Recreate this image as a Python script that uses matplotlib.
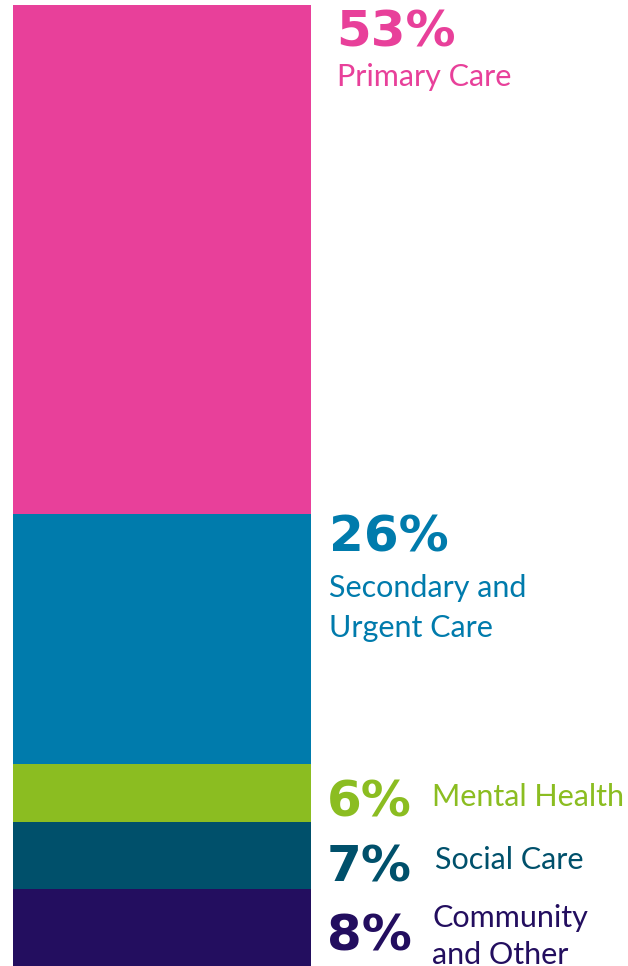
import matplotlib
matplotlib.use("Agg")
import matplotlib.pyplot as plt
import numpy as np

# ---- data ----
categories = ["Primary Care", "Secondary and\nUrgent Care", "Mental Health", "Social Care", "Community\nand Other"]
values = [53, 26, 6, 7, 8]
colors = ["#E8409A", "#007BAC", "#8BBD21", "#00506B", "#230E5F"]
pct_labels = ["53%", "26%", "6%", "7%", "8%"]

# ---- layout (label placement: x in px, y in % units) ----
pct_x = [336, 329, 327, 327, 327]
pct_y = [4.4, 56.9, 84.5, 91.2, 98.35]
lab_x = [337, 329, 432, 435, 432]
lab_y = [8.5, 61.6, 83.35, 89.9, 95.95]
line_steps = [0, 4.15, 0, 0, 3.8]  # in % units

W, H = 628, 966
fig = plt.figure(figsize=(W / 100, H / 100), dpi=100)
top_px = 4.7
ax = fig.add_axes([0, 0, 1, (H - top_px) / H])
ax.set_xlim(0, W)
ax.set_ylim(sum(values), 0)
ax.axis("off")

bottoms = np.concatenate([[0], np.cumsum(values)[:-1]])
bar_left, bar_right = 12.5, 310.7
ax.bar([(bar_left + bar_right) / 2] * len(values), values, bottom=bottoms,
       width=bar_right - bar_left, color=colors, edgecolor="none", linewidth=0)

for i, (cat, pct) in enumerate(zip(categories, pct_labels)):
    ax.text(pct_x[i], pct_y[i], pct, color=colors[i], fontsize=36,
            fontweight="bold", family="DejaVu Sans", va="baseline", ha="left")
    for j, line in enumerate(cat.split("\n")):
        ax.text(lab_x[i], lab_y[i] + j * line_steps[i], line, color=colors[i],
                fontsize=22, family="Lato", va="baseline", ha="left")

fig.savefig("out.png", dpi=100)
